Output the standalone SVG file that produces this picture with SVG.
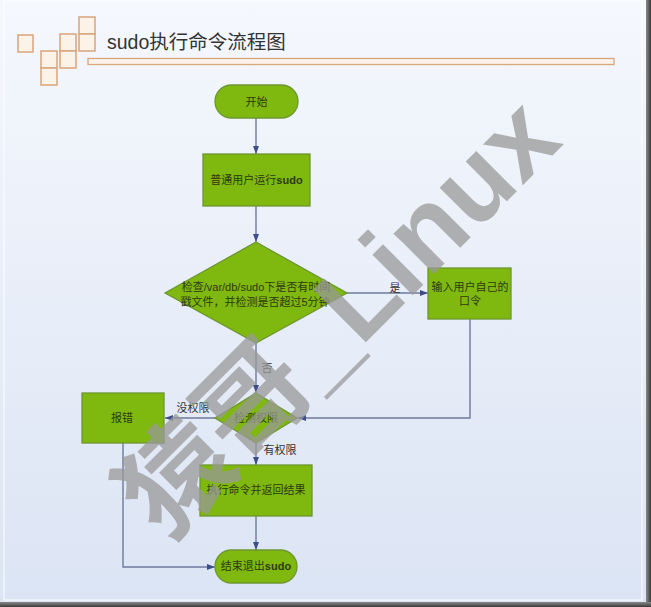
<svg xmlns="http://www.w3.org/2000/svg" width="651" height="607" viewBox="0 0 651 607">
<defs>
<linearGradient id="bg" x1="0" y1="0" x2="0" y2="1">
<stop offset="0" stop-color="#f5f8fd"/>
<stop offset="1" stop-color="#dbe4f4"/>
</linearGradient>
<linearGradient id="shR" x1="0" y1="0" x2="1" y2="0">
<stop offset="0" stop-color="#8a8a8a"/>
<stop offset="1" stop-color="#3a3a3a"/>
</linearGradient>
<linearGradient id="shB" x1="0" y1="0" x2="0" y2="1">
<stop offset="0" stop-color="#8a8a8a"/>
<stop offset="1" stop-color="#3a3a3a"/>
</linearGradient>
<marker id="arr" viewBox="0 0 8 6" refX="8" refY="3" markerWidth="8" markerHeight="6" markerUnits="userSpaceOnUse" orient="auto">
<path d="M0,0 L8,3 L0,6 z" fill="#3d4d8c"/>
</marker>
<style>
.node{fill:#7fb80e;stroke:#6e9630;stroke-width:1.3}
.t{font-family:"Liberation Sans","Noto Sans CJK SC",sans-serif;font-size:11px;fill:#2e3a10;text-anchor:middle}
.lbl{font-family:"Liberation Sans","Noto Sans CJK SC",sans-serif;font-size:11px;fill:#333;text-anchor:middle}
.c{fill:none;stroke:#6c7a9c;stroke-width:1.4;marker-end:url(#arr)}
.sq{fill:#fbf2e8;stroke:#d8a57c;stroke-width:1.5}
</style>
</defs>
<rect x="0" y="0" width="651" height="607" fill="url(#bg)"/>
<rect x="4" y="1" width="638" height="599" fill="none" stroke="#ffffff" stroke-width="1.2" opacity="0.8"/>
<rect x="646" y="0" width="5" height="607" fill="url(#shR)"/>
<rect x="0" y="602" width="651" height="5" fill="url(#shB)"/>

<g id="title">
<rect class="sq" x="18" y="35" width="15" height="17"/>
<rect class="sq" x="41" y="51" width="16" height="17"/>
<rect class="sq" x="41" y="68" width="16" height="17"/>
<rect class="sq" x="60" y="34" width="16" height="17"/>
<rect class="sq" x="60" y="51" width="16" height="17"/>
<rect class="sq" x="79" y="17" width="16" height="17"/>
<rect class="sq" x="79" y="34" width="16" height="17"/>
<text x="107" y="49" font-family="'Liberation Sans','Noto Sans CJK SC',sans-serif" font-size="19.5" fill="#333">sudo执行命令流程图</text>
<rect x="88" y="58.5" width="526" height="6" fill="#fcf4ec" stroke="#d8a57c" stroke-width="1.3"/>
</g>

<g id="connectors">
<path class="c" d="M256,118 L256,154"/>
<path class="c" d="M256,206 L256,242"/>
<path class="c" d="M347,293 L428,293"/>
<path class="c" d="M256,343 L256,393"/>
<path class="c" d="M470,319 L470,418 L298,418"/>
<path class="c" d="M215,418 L165,418"/>
<path class="c" d="M256,443 L256,465"/>
<path class="c" d="M256,516 L256,550"/>
<path class="c" d="M123,443 L123,567 L215,567"/>
</g>

<g id="labels">
<text class="lbl" x="395" y="292">是</text>
<text class="lbl" x="267" y="372">否</text>
<text class="lbl" x="193" y="412">没权限</text>
<text class="lbl" x="280" y="454">有权限</text>
</g>

<g id="start">
<rect class="node" x="215" y="85" width="83" height="33" rx="16.5"/>
<text class="t" x="256.5" y="105.5">开始</text>
</g>
<g id="run">
<rect class="node" x="203" y="154" width="107" height="52"/>
<text class="t" x="256.5" y="184">普通用户运行<tspan font-weight="bold">sudo</tspan></text>
</g>
<g id="check">
<polygon class="node" points="256,242 347,293 256,343 165,293"/>
<text class="t" x="256" y="291">检查/var/db/sudo下是否有时间</text>
<text class="t" x="255" y="306">戳文件，并检测是否超过5分钟</text>
</g>
<g id="password">
<rect class="node" x="428" y="268" width="83" height="51"/>
<text class="t" x="470" y="291">输入用户自己的</text>
<text class="t" x="470" y="305">口令</text>
</g>
<g id="perm">
<polygon class="node" points="256,393 297,418 256,443 215,418"/>
<text class="t" x="256" y="422">检测权限</text>
</g>
<g id="error">
<rect class="node" x="82" y="393" width="82" height="50"/>
<text class="t" x="122" y="422">报错</text>
</g>
<g id="exec">
<rect class="node" x="200" y="465" width="112" height="51"/>
<text class="t" x="256" y="494">执行命令并返回结果</text>
</g>
<g id="end">
<rect class="node" x="215" y="550" width="82" height="33" rx="16.5"/>
<text class="t" x="256" y="570">结束退出<tspan font-weight="bold">sudo</tspan></text>
</g>

<g id="watermark" opacity="0.75">
<text x="365" y="343" transform="rotate(-45 365 343)" font-family="'Liberation Sans','Noto Sans CJK SC',sans-serif" font-size="108" font-weight="bold" fill="#999999" text-anchor="middle">猿哥_Linux</text>
</g>
</svg>
